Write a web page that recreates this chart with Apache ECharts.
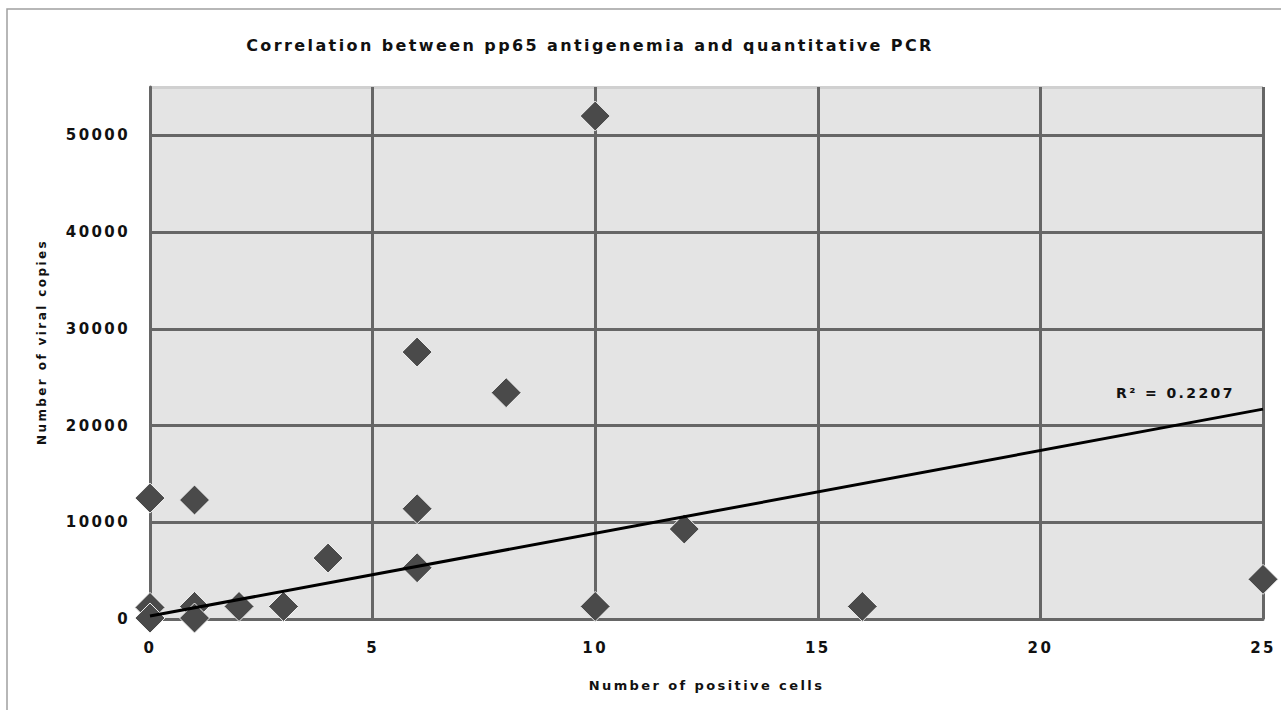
<!DOCTYPE html>
<html>
<head>
    <meta charset="utf-8">
    <title>pp65 vs PCR</title>
    <script type="text/javascript" src="https://cdn.jsdelivr.net/npm/echarts@6/dist/echarts.min.js"></script>
    <style>
        html, body { margin: 0; padding: 0; background: #fff; }
        /* the original uses widely spaced lettering */
        #main svg text { letter-spacing: 2.4px; }
    </style>
</head>
<body>
<div id="main" style="width: 1281px;height:710px;"></div>
<script type="text/javascript">
    // positive cells (x) and viral copies (y)
    var positiveCells = [0, 0, 0, 1, 1, 1, 2, 3, 4, 6, 6, 6, 8, 10, 10, 12, 16, 25];
    var viralCopies = [12500, 1200, 100, 12300, 1300, 100, 1300, 1300, 6300, 27600, 11400, 5300, 23400, 52000, 1300, 9300, 1300, 4100];
    // linear trend line end points
    var trendX = [0, 25];
    var trendY = [300, 21700];
    var xTicks = { min: 0, max: 25, interval: 5 };
    var yTicks = { min: 0, max: 55000, interval: 10000 };

    var points = positiveCells.map(function (x, i) { return [x, viralCopies[i]]; });
    var trend = trendX.map(function (x, i) { return [x, trendY[i]]; });

    var chart = echarts.init(document.getElementById('main'), null, { renderer: 'svg' });
    var font = 'DejaVu Sans';

    var option = {
        backgroundColor: '#fff',
        animation: false,
        title: {
            text: 'Correlation between pp65 antigenemia and quantitative PCR',
            left: 585,
            top: 32,
            textAlign: 'center',
            textStyle: { fontFamily: font, fontSize: 16, fontWeight: 'bold', color: '#111' }
        },
        graphic: [
            {
                type: 'rect',
                shape: { x: 7, y: 9, width: 1300, height: 800 },
                style: { fill: 'none', stroke: '#a0a0a0', lineWidth: 1.5 },
                silent: true
            },
            {
                type: 'text',
                x: 1116,
                y: 393,
                style: {
                    text: 'R\u00b2 = 0.2207',
                    font: 'bold 14px "DejaVu Sans"',
                    fill: '#111',
                    align: 'left',
                    verticalAlign: 'middle'
                },
                z: 10
            }
        ],
        grid: {
            left: 150, right: 18, top: 87, bottom: 91,
            show: true, backgroundColor: '#e4e4e4', borderWidth: 0
        },
        xAxis: {
            type: 'value',
            min: xTicks.min, max: xTicks.max, interval: xTicks.interval,
            name: 'Number of positive cells',
            nameLocation: 'middle',
            nameGap: 60,
            nameTextStyle: { fontFamily: font, fontSize: 13, fontWeight: 'bold', color: '#111' },
            axisLine: { show: true, lineStyle: { color: '#666', width: 3 } },
            axisTick: { show: false },
            axisLabel: { margin: 21, fontFamily: font, fontSize: 15, fontWeight: 'bold', color: '#111' },
            splitLine: { show: true, lineStyle: { color: '#666', width: 3 } }
        },
        yAxis: {
            type: 'value',
            min: yTicks.min, max: yTicks.max, interval: yTicks.interval,
            name: 'Number of viral copies',
            nameLocation: 'middle',
            nameGap: 102,
            nameTextStyle: { fontFamily: font, fontSize: 12, fontWeight: 'bold', color: '#111', padding: [0, 0, 0, 22] },
            axisLine: { show: true, lineStyle: { color: '#666', width: 3 } },
            axisTick: { show: false },
            axisLabel: {
                margin: 20, fontFamily: font, fontSize: 15, fontWeight: 'bold', color: '#111', showMaxLabel: false,
                formatter: function (v) { return String(v); }
            },
            splitLine: {
                show: true,
                lineStyle: { color: ['#666', '#666', '#666', '#666', '#666', '#666', '#d0d0d0'], width: 3 }
            }
        },
        series: [
            {
                type: 'scatter',
                data: points,
                symbol: 'diamond',
                symbolSize: [30, 30],
                itemStyle: { color: '#4a4a4a', opacity: 1, borderColor: '#f2f2f2', borderWidth: 1 },
                z: 3
            },
            {
                type: 'line',
                data: trend,
                symbol: 'none',
                lineStyle: { color: '#000', width: 3 },
                z: 4
            }
        ]
    };
    chart.setOption(option);
</script>
</body>
</html>
